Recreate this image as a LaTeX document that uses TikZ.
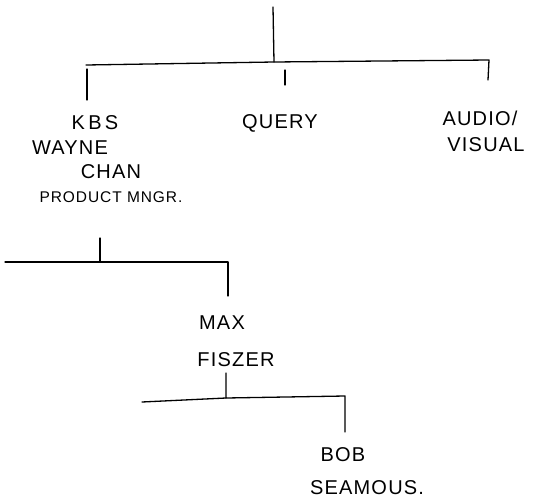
\documentclass[tikz,border=0pt]{standalone}
\usepackage{fontspec}
\setmainfont{Liberation Sans}[LetterSpace=6]
\usetikzlibrary{positioning}
\tikzset{
  hand/.style={line width=1.3pt,line cap=round,line join=round},
  lbl/.style={font=\fontsize{20}{22}\selectfont,inner sep=1pt},
  small/.style={lbl,font=\fontsize{15.5}{17}\selectfont},
}

\begin{document}
\begin{tikzpicture}[x=1pt,y=-1pt,hand]
  \useasboundingbox (0,0) rectangle (549,498);
  % first level
  \coordinate (root) at (273,7);
  \coordinate (rootbar) at (274,62);
  \coordinate (barL) at (86,65);
  \coordinate (barR) at (489,60);
  \coordinate (legL) at (87,69);
  \coordinate (dropL) at (87,100);
  \coordinate (legQ) at (285,70);
  \coordinate (dropQ) at (285,85);
  \coordinate (dropA) at (488,80);
  \node[lbl] (kbs) at (95,123) {K\,B\,S};
  \node[lbl] (wayne) at (70,148) {WAYNE};
  \node[lbl] (chan) at (111,172) {CHAN};
  \node[small] (mngr) at (111,197) {PRODUCT MNGR.};
  \node[lbl] (query) at (280,123) {QUERY};
  \node[lbl] (audio) at (480,118) {AUDIO/};
  \node[lbl] (visual) at (486,145) {VISUAL};
  \draw (root) -- (rootbar);
  \draw (barL) -- (rootbar) -- (barR) -- (dropA);
  \draw (legL) -- (dropL);
  \draw (legQ) -- (dropQ);
  % second level
  \coordinate (mgrtop) at (100,238);
  \coordinate (mgrbar) at (100,262);
  \coordinate (bar2L) at (5,262);
  \coordinate (bar2R) at (228,262);
  \coordinate (drop2) at (228,296);
  \node[lbl] (max) at (222,323) {MAX};
  \node[lbl] (fiszer) at (236,360) {FISZER};
  \draw (mgrtop) -- (mgrbar);
  \draw (bar2L) -- (mgrbar) -- (bar2R) -- (drop2);
  % third level
  \coordinate (maxtop) at (226,373);
  \coordinate (maxbar) at (226,398);
  \coordinate (bar3L) at (142,402);
  \coordinate (bar3R) at (345,396);
  \coordinate (drop3) at (345,432);
  \node[lbl] (bob) at (343,455) {BOB};
  \node[lbl] (seamous) at (367,488) {SEAMOUS.};
  \draw (maxtop) -- (maxbar) -- (bar3R) -- (drop3);
  \draw (bar3L) -- (maxbar);
\end{tikzpicture}
\end{document}
